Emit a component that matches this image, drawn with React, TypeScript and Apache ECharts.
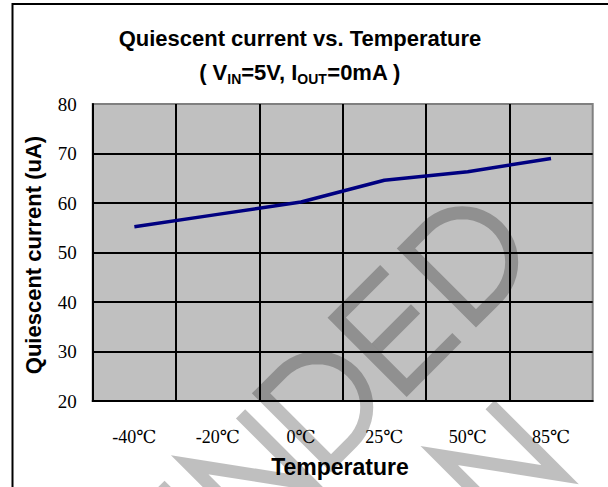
import React, { useEffect, useRef } from "react";
import * as echarts from "echarts";

// ---- data ----
const categories = ["-40℃", "-20℃", "0℃", "25℃", "50℃", "85℃"];
const quiescentCurrent = [55.2, 57.7, 60.2, 64.6, 66.3, 69.0];
const yMin = 20;
const yMax = 80;
const yStep = 10;

const serif = "'Liberation Serif', 'DejaVu Serif', 'Noto Sans CJK TC', serif";
const sans = "'Liberation Sans', Arial, sans-serif";

// ---- watermark (stroke-font letters, decoration only) ----
const WM_H = 99;
const wmStyle = {
  fill: "none",
  stroke: "rgba(0,0,0,0.25)",
  lineWidth: 13,
  lineJoin: "miter" as const,
  lineCap: "butt" as const,
};

function letterE(u0: number, v0: number) {
  return [
    {
      type: "polyline",
      z: 100,
      silent: true,
      shape: { points: [[u0 + 68, v0], [u0, v0], [u0, v0 + WM_H], [u0 + 71, v0 + WM_H]] },
      style: wmStyle,
    },
    {
      type: "line",
      z: 100,
      silent: true,
      shape: { x1: u0 + 6.5, y1: v0 + WM_H / 2, x2: u0 + 62, y2: v0 + WM_H / 2 },
      style: wmStyle,
    },
  ];
}

function letterN(u0: number, v0: number, w = 72) {
  return [
    {
      type: "polyline",
      z: 100,
      silent: true,
      shape: { points: [[u0, v0 + WM_H], [u0, v0], [u0 + w, v0 + WM_H], [u0 + w, v0]] },
      style: wmStyle,
    },
  ];
}

function letterD(u0: number, v0: number, a = 30) {
  const r = WM_H / 2;
  const pts: number[][] = [[u0, v0], [u0, v0 + WM_H], [u0 + a, v0 + WM_H]];
  const steps = 24;
  for (let i = 1; i < steps; i++) {
    const phi = Math.PI / 2 - (Math.PI * i) / steps;
    pts.push([u0 + a + r * Math.cos(phi), v0 + r + r * Math.sin(phi)]);
  }
  pts.push([u0 + a, v0]);
  return [
    {
      type: "polygon",
      z: 100,
      silent: true,
      shape: { points: pts },
      style: wmStyle,
    },
  ];
}

export default function App() {
  const ref = useRef<HTMLDivElement>(null);

  useEffect(() => {
    if (!ref.current) return;
    const chart = echarts.init(ref.current, undefined, { renderer: "svg" });

    const watermarkChildren = [
      ...letterE(-305, 0),
      ...letterN(-208, 0),
      ...letterD(-107, 0),
      ...letterE(0, 0),
      ...letterD(98, 0),
      ...letterN(-25, 170),
    ];

    chart.setOption({
      animation: false,
      backgroundColor: "#ffffff",
      grid: {
        left: 92.7,
        top: 104,
        width: 500,
        height: 297,
        show: true,
        backgroundColor: "#c0c0c0",
        borderColor: "#808080",
        borderWidth: 2,
      },
      xAxis: {
        type: "category",
        data: categories,
        boundaryGap: true,
        axisLine: { show: true, lineStyle: { color: "#000", width: 2 } },
        axisTick: { show: false },
        axisLabel: { color: "#000", fontFamily: serif, fontSize: 18, margin: 27 },
        splitLine: { show: true, showMaxLine: false, lineStyle: { color: "#000", width: 2 } },
      },
      yAxis: {
        type: "value",
        min: yMin,
        max: yMax,
        interval: yStep,
        axisLine: { show: true, lineStyle: { color: "#000", width: 2 } },
        axisTick: { show: false },
        axisLabel: { color: "#000", fontFamily: serif, fontSize: 19, margin: 16 },
        splitLine: { show: true, showMaxLine: false, lineStyle: { color: "#000", width: 2 } },
      },
      series: [
        {
          type: "line",
          data: quiescentCurrent,
          symbol: "none",
          lineStyle: { color: "#000080", width: 3.5 },
        },
      ],
      graphic: [
        {
          type: "rect",
          silent: true,
          shape: { x: 12.5, y: 4, width: 800, height: 800 },
          style: { fill: "none", stroke: "#000", lineWidth: 2 },
        },
        {
          type: "text",
          silent: true,
          style: {
            text: "Quiescent current vs. Temperature",
            x: 300,
            y: 38,
            textAlign: "center",
            textVerticalAlign: "middle",
            font: `bold 22px ${sans}`,
            fill: "#000",
          },
        },
        {
          type: "text",
          silent: true,
          style: {
            text: "{a|( V}{b|IN}{a|=5V, I}{b|OUT}{a|=0mA )}",
            x: 300,
            y: 72,
            textAlign: "center",
            textVerticalAlign: "middle",
            rich: {
              a: { fontFamily: sans, fontWeight: "bold", fontSize: 22, lineHeight: 28, fill: "#000", color: "#000" },
              b: {
                fontFamily: sans,
                fontWeight: "bold",
                fontSize: 14,
                lineHeight: 14,
                verticalAlign: "bottom",
                fill: "#000",
                color: "#000",
              },
            },
          },
        },
        {
          type: "text",
          silent: true,
          x: 33,
          y: 255,
          rotation: Math.PI / 2,
          style: {
            text: "Quiescent current (uA)",
            x: 0,
            y: 0,
            textAlign: "center",
            textVerticalAlign: "middle",
            font: `bold 22px ${sans}`,
            fill: "#000",
          },
        },
        {
          type: "text",
          silent: true,
          style: {
            text: "Temperature",
            x: 340,
            y: 467,
            textAlign: "center",
            textVerticalAlign: "middle",
            font: `bold 23px ${sans}`,
            fill: "#000",
          },
        },
        {
          type: "group",
          x: 336.7,
          y: 317.7,
          rotation: Math.PI / 4,
          silent: true,
          children: watermarkChildren,
        },
      ],
    });

    return () => {
      chart.dispose();
    };
  }, []);

  return (
    <div
      ref={ref}
      style={{ position: "fixed", left: 0, top: 0, width: 608, height: 487 }}
    />
  );
}
